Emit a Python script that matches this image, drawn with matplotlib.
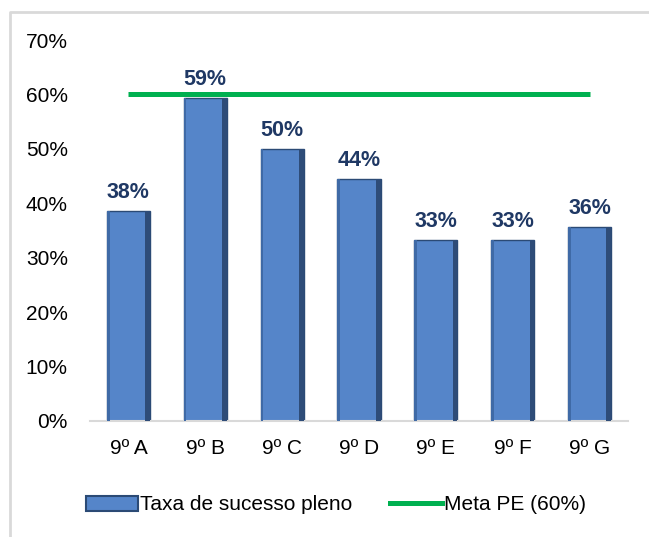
import matplotlib
matplotlib.use("Agg")
import matplotlib.pyplot as plt
from matplotlib.lines import Line2D
from matplotlib.patches import Rectangle
import numpy as np

categories = ["9º A", "9º B", "9º C", "9º D", "9º E", "9º F", "9º G"]
taxa = [0.385, 0.593, 0.500, 0.444, 0.333, 0.333, 0.357]
labels = ["38%", "59%", "50%", "44%", "33%", "33%", "36%"]
meta = [0.60] * len(categories)
yticks = [0, 0.1, 0.2, 0.3, 0.4, 0.5, 0.6, 0.7]
ytick_labels = ["0%", "10%", "20%", "30%", "40%", "50%", "60%", "70%"]

plt.rcParams['font.family'] = ['Liberation Sans', 'DejaVu Sans']

W, H = 649, 537
fig = plt.figure(figsize=(W / 100, H / 100), dpi=100)
ax = fig.add_axes([90 / W, 1 - 421 / H, 538 / W, 381 / H])

x = np.arange(len(categories))
bw = 0.56
bar_color = "#5585C9"
ax.bar(x, taxa, width=bw, color=bar_color, edgecolor="#2B4A75", linewidth=1.0, zorder=2)
# darker right edge strip and lighter left strip for the bevel look
ax.bar(x + bw / 2, taxa, width=-0.06, align="edge", color="#2E4C78", linewidth=0, zorder=3)
ax.bar(x - bw / 2, taxa, width=0.035, align="edge", color="#3F6AA6", linewidth=0, zorder=3)

ax.plot(x, meta, color="#00B050", linewidth=3.6, solid_capstyle="butt", zorder=4)

for xi, v, lab in zip(x, taxa, labels):
    ax.text(xi, v + 0.015, lab, ha="center", va="bottom", fontsize=15.5,
            fontweight="bold", color="#1F3864", zorder=5)

ax.set_xlim(-0.5, len(categories) - 0.5)
ax.set_ylim(0, 0.7)
ax.set_yticks(yticks)
ax.set_yticklabels(ytick_labels, fontsize=15)
ax.set_xticks(x)
ax.set_xticklabels(categories, fontsize=15)
ax.tick_params(axis="both", length=0, colors="black")
ax.tick_params(axis="y", pad=16)
ax.tick_params(axis="x", pad=13)
for s in ["top", "right", "left"]:
    ax.spines[s].set_visible(False)
ax.spines["bottom"].set_color("#D9D9D9")
ax.spines["bottom"].set_linewidth(1.5)

handles = [Rectangle((0, 0), 1, 1, facecolor=bar_color, edgecolor="#2B4A75", linewidth=1.5),
           Line2D([0], [0], color="#00B050", linewidth=3.6)]
fig.legend(handles, ["Taxa de sucesso pleno", "Meta PE (60%)"], loc="center",
           bbox_to_anchor=(336 / W, 1 - 505 / H), ncol=2, frameon=False, fontsize=15,
           handlelength=2.5, handletextpad=0.1, columnspacing=1.8, handleheight=0.7)

# chart border (top and left visible)
fig.add_artist(Line2D([10 / W, 10 / W, 1], [0, 1 - 12 / H, 1 - 12 / H],
                      transform=fig.transFigure, color="#D9D9D9", linewidth=2))

fig.savefig("out.png", dpi=100)
